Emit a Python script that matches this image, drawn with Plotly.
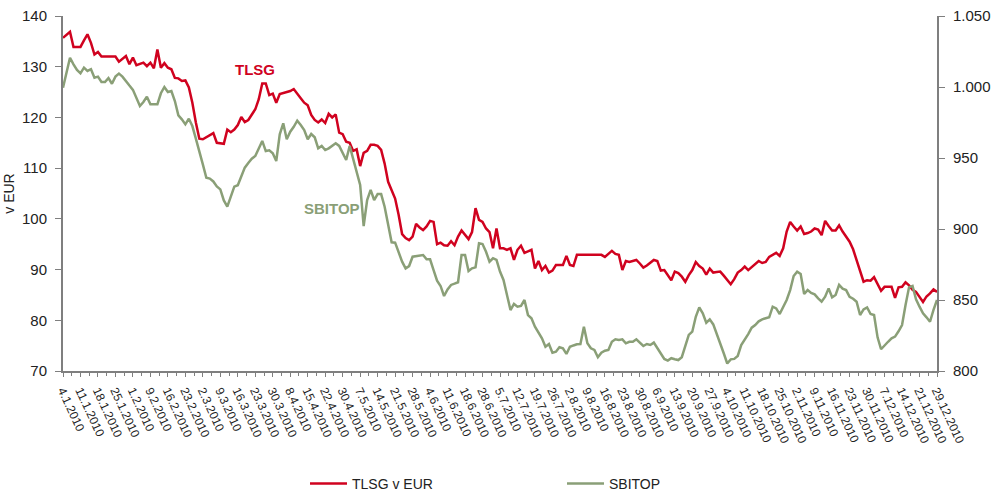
import plotly.graph_objects as go

# Weekly tick labels (every 5th trading day)
tick_labels = ["4.1.2010", "11.1.2010", "18.1.2010", "25.1.2010", "1.2.2010", "9.2.2010",
               "16.2.2010", "23.2.2010", "2.3.2010", "9.3.2010", "16.3.2010", "23.3.2010",
               "30.3.2010", "8.4.2010", "15.4.2010", "22.4.2010", "30.4.2010", "7.5.2010",
               "14.5.2010", "21.5.2010", "28.5.2010", "4.6.2010", "11.6.2010", "18.6.2010",
               "28.6.2010", "5.7.2010", "12.7.2010", "19.7.2010", "26.7.2010", "2.8.2010",
               "9.8.2010", "16.8.2010", "23.8.2010", "30.8.2010", "6.9.2010", "13.9.2010",
               "20.9.2010", "27.9.2010", "4.10.2010", "11.10.2010", "18.10.2010", "25.10.2010",
               "2.11.2010", "9.11.2010", "16.11.2010", "23.11.2010", "30.11.2010", "7.12.2010",
               "14.12.2010", "21.12.2010", "29.12.2010"]

# TLSG share price in EUR (left axis), one value per trading day
tlsg = [
    135.7, 136.3, 136.9, 133.9, 133.9, 133.9, 135.2, 136.4, 134.7, 132.4,
    132.9, 132.0, 132.0, 132.0, 132.0, 132.0, 131.0, 131.5, 132.1, 130.5,
    131.8, 130.3, 130.5, 130.8, 130.1, 130.8, 129.7, 133.4, 129.8, 130.7,
    129.8, 129.5, 127.8,
    127.7, 127.2, 127.3, 125.9, 122.9, 119.0, 115.8, 115.7, 116.1, 116.5,
    116.9, 115.0, 114.9, 114.8, 117.6, 117.1, 117.6, 118.5, 120.1, 119.1,
    119.5, 120.5, 121.6, 123.6, 126.7, 126.7, 124.4, 124.7, 122.9, 124.6,
    124.8, 124.9, 125.2, 125.6, 124.6, 123.8, 122.9, 122.4, 120.5, 119.5,
    119.0, 119.6, 118.9, 120.7, 120.0, 120.6, 117.0, 116.7,
    115.2, 115.0, 113.4, 113.7, 110.4, 113.0, 113.4, 114.6, 114.6, 114.4,
    113.6, 110.9, 107.3, 105.5, 104.0, 100.8, 97.0, 96.2, 95.8, 96.5,
    99.0, 98.3, 97.8, 98.5, 99.6, 99.4, 95.0, 95.3, 94.8, 94.7,
    95.6, 94.8, 96.5, 97.7, 96.8, 96.0, 97.4, 102.1, 99.8, 99.4,
    98.1, 97.4, 94.2, 98.1, 94.2, 94.2, 93.9,
    94.2, 91.9, 93.9, 94.7, 93.3, 93.6, 93.9, 90.2, 91.7, 89.9,
    90.7, 89.4, 89.8, 90.9, 90.9, 90.9, 92.7, 90.9, 90.7, 92.9,
    92.9, 92.9, 92.9, 92.9, 92.9, 92.9, 92.9, 92.5, 93.1, 93.7,
    93.1, 92.9, 89.9, 91.7, 91.5, 91.7, 91.9, 91.2, 90.4, 90.8,
    91.4, 91.9, 91.7, 89.8, 89.9, 88.9, 87.9, 89.6, 89.3, 88.6,
    87.6, 88.9, 89.9, 91.5, 90.7, 90.2, 89.0, 90.2, 89.4, 89.5,
    89.6, 88.8, 87.9, 87.1, 88.1, 89.4, 89.9, 90.6, 89.9, 90.5,
    91.2, 91.7, 91.3, 91.5, 92.5, 92.9, 93.3, 92.7, 94.2, 97.5,
    99.4, 98.5, 97.7, 98.5, 97.0, 97.2, 97.5, 98.1, 97.9, 96.8,
    99.6, 98.6, 97.7, 97.7, 98.7, 97.5, 96.5, 95.5, 94.0, 91.7,
    89.4, 87.6,
    87.9, 87.8, 88.5, 87.1, 85.8, 86.6, 86.6, 86.6, 84.4, 86.5,
    86.6, 87.5, 86.9, 86.0, 85.6, 84.5, 83.6, 84.7, 85.3, 86.1,
    85.6,
]

# SBITOP index (right axis)
sbitop = [
    999.5, 1010, 1020.6, 1016.0, 1012.0, 1009.6, 1013.6, 1011.3, 1012.5, 1006.6,
    1007.3, 1003.5, 1003.5, 1006.3, 1002.3, 1007.3, 1009.4, 1007.3, 1004.5, 1001.0,
    998.0, 992, 986.6, 989.4, 993.2, 987.8, 987.8, 987.8, 995.6, 1000.0,
    996.5, 997.2, 990.1,
    980.0, 977.2, 973.7, 977.7, 972.5, 963.6, 953.7, 945.5, 936.1, 935.5,
    933.5, 930, 927.9, 920.1, 915.7, 923.2, 929.8, 930.8, 937.8, 943.2,
    946.5, 949.5, 951.4, 957.3, 962.0, 954.9, 955.4, 953.3, 947.9, 966.7,
    974.4, 963.2, 968.5, 972, 976.3, 973.2, 969.7, 963.2, 966.9, 964.6,
    956.8, 958.5, 955.6, 956.8, 958.5, 960.4, 958.5, 953.7,
    948.6, 958.5, 949.1, 941.1, 931.0, 902.1, 920.4, 927.5, 920.4, 924.6,
    924.6, 915.7, 904.0, 890.6, 890.4, 882.9, 877, 872.3, 873.9, 880.5,
    880.8, 881.0, 881.7, 878.7, 878.7, 871.1, 863.6, 859.9, 852.8, 857.5,
    860.6, 861.5, 862.5, 881.7, 881.7, 870.4, 872.3, 873.0, 889.9, 889.4,
    884.0, 877.0, 879.4, 878.2, 870.0, 864.1, 853.5,
    842.9, 847.2, 845.3, 845.8, 850.0, 839.4, 837.1, 831.2, 827.0, 823.0,
    817.1, 819.0, 812.9, 813.6, 816.7, 816.0, 812.0, 817.1, 818.0, 818.8,
    819.0, 831.2, 819.5, 816.0, 814.8, 809.7, 812.9, 814.3, 814.8, 820.6,
    822.3, 821.8, 822.3, 819.5, 820.6, 820.6, 822.3, 820, 817.6, 819.0,
    818.3, 820.0, 816.0, 812, 808.5, 807.3, 809.0, 808.3, 807.7, 809.7,
    818.3, 825.4, 827.7, 838.2, 844.8, 840.6, 834.0, 836.4, 832.8, 826.5,
    819.5, 812.5, 805.3, 808.2, 808.5, 810.6, 818.3, 822, 826, 830.5,
    832.4, 835, 836.4, 837.1, 837.8, 845.3, 844.1, 840.1, 845.3, 850,
    857.0, 866.9, 869.9, 868.3, 854.2, 857.0, 855, 854.0, 851.2, 848.8,
    852.3, 858.2, 851.9, 853.5, 860.6, 858, 857.0, 852.3, 850.9, 848.8,
    839.4, 843.4,
    844.8, 840.1, 839.4, 823.7, 815.3, 818.3, 820.6, 823.0, 824.2, 828,
    832.4, 846.5, 858.9, 859.9, 850.5, 845.3, 840.6, 837.8, 834.7, 843.0,
    850.0,
]

left_ticks = [70, 80, 90, 100, 110, 120, 130, 140]
right_ticks = [800, 850, 900, 950, 1000, 1050]
right_tick_text = ["800", "850", "900", "950", "1.000", "1.050"]

assert len(tlsg) == len(sbitop)
days = list(range(len(tlsg)))
label_pos = days[::5]

RED = "#D0021F"
GREEN = "#8A9F77"
AXIS = "#7F7F7F"
FONT = "Liberation Sans, Arial, Helvetica, sans-serif"

fig = go.Figure()
fig.add_trace(go.Scatter(x=days, y=tlsg, mode="lines", name="TLSG v EUR",
                         line=dict(color=RED, width=2.5)))
fig.add_trace(go.Scatter(x=days, y=sbitop, mode="lines", name="SBITOP", yaxis="y2",
                         line=dict(color=GREEN, width=2.5)))

fig.add_annotation(x=55, y=129.4, xref="x", yref="y", text="<b>TLSG</b>", showarrow=False,
                   font=dict(color=RED, size=15, family=FONT))
fig.add_annotation(x=77, y=102.1, xref="x", yref="y", text="<b>SBITOP</b>", showarrow=False,
                   font=dict(color=GREEN, size=15, family=FONT))

fig.update_layout(
    width=991, height=494,
    margin=dict(l=63, r=54, t=16, b=123, autoexpand=False),
    paper_bgcolor="white", plot_bgcolor="white",
    font=dict(family=FONT, color="#222222", size=14),
    showlegend=True,
    legend=dict(orientation="h", x=0.2769, xanchor="left", y=-0.318, yanchor="middle",
                font=dict(size=14), entrywidth=205, itemwidth=37),
    xaxis=dict(range=[0, len(tlsg) - 1], tickmode="array", tickvals=label_pos,
               ticktext=tick_labels, tickangle=65, tickfont=dict(size=12),
               automargin=False, ticklabelstandoff=2,
               showline=True, linecolor=AXIS, linewidth=2, ticks="outside",
               ticklen=4, tickcolor=AXIS, tickwidth=1, showgrid=False, zeroline=False,
               minor=dict(ticks="outside", ticklen=3, tickcolor=AXIS, dtick=2.5,
                          tick0=0, showgrid=False)),
    yaxis=dict(range=[70, 140], tickvals=left_ticks, showline=True, linecolor=AXIS,
               linewidth=2, ticks="outside", ticklen=6, tickcolor=AXIS, showgrid=False,
               automargin=False, ticklabelstandoff=5,
               zeroline=False, title=dict(text="v EUR", font=dict(size=14), standoff=4),
               tickfont=dict(size=15)),
    yaxis2=dict(range=[800, 1050], overlaying="y", side="right", tickvals=right_ticks,
                ticktext=right_tick_text, showline=True, linecolor=AXIS, linewidth=2,
                automargin=False, ticklabelstandoff=5,
                ticks="outside", ticklen=6, tickcolor=AXIS, showgrid=False,
                zeroline=False, tickfont=dict(size=15)),
)

fig.write_html("out.html", config={"displayModeBar": False},
               post_script="document.body.style.margin='0';document.body.style.overflow='hidden';")
